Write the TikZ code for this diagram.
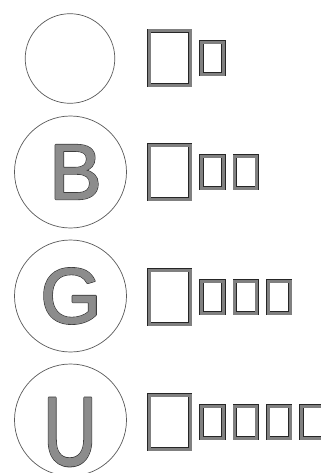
\documentclass[tikz,border=0pt]{standalone}
\usepackage{fontspec}
\usetikzlibrary{positioning}
\newfontfamily\letterfont{Liberation Sans}
\newcommand\hollow[1]{\rlap{\special{pdf:literal direct 0.2 G 1.5 w 1 j 1 Tr}#1}\special{pdf:literal direct 0.55 G 0.6 w 1 j 2 Tr}#1\special{pdf:literal direct 0 Tr}}
\begin{document}
\begin{tikzpicture}[x=0.25mm, y=-0.25mm,
  ring/.style={draw=black!65, line width=0.5pt, circle, inner sep=0pt},
  glyph/.style={inner sep=0pt, text=black!45, font=\letterfont\fontsize{56}{58}\selectfont},
  tofu/.style={draw=black!85, line width=0.45pt, double=black!50, double distance=0.75mm, inner sep=0pt, outer sep=0pt},
  bigbox/.style={tofu, minimum width=10.25mm, minimum height=13.5mm},
  smallbox/.style={tofu, minimum width=5.5mm, minimum height=8mm}]
\useasboundingbox (0,0) rectangle (320,473);
\node[ring, minimum size=22.4mm] (c1) at (70,58.5) {};
\node[ring, minimum size=28mm] (c2) at (70.5,172) {};
\node[ring, minimum size=28mm] (c3) at (70.5,296) {};
\node[ring, minimum size=28mm] (c4) at (70.5,420) {};
\node[glyph] (tB) at (75.5,172) {\hollow{B}};
\node[glyph] (tG) at (71,296) {\hollow{G}};
\node[glyph] (tU) at (70,432) {\scalebox{0.95}[1.24]{\hollow{U}}};
\foreach \n/\y in {1/58,2/172,3/297,4/422}{
  \node[bigbox] (s\n-0) at (169.5,\y) {};
  \foreach \k in {1,...,\n}{
    \pgfmathtruncatemacro\prev{\k-1}
    \node[smallbox, right=2.85mm of s\n-\prev] (s\n-\k) {};
  }
}
\end{tikzpicture}
\end{document}
